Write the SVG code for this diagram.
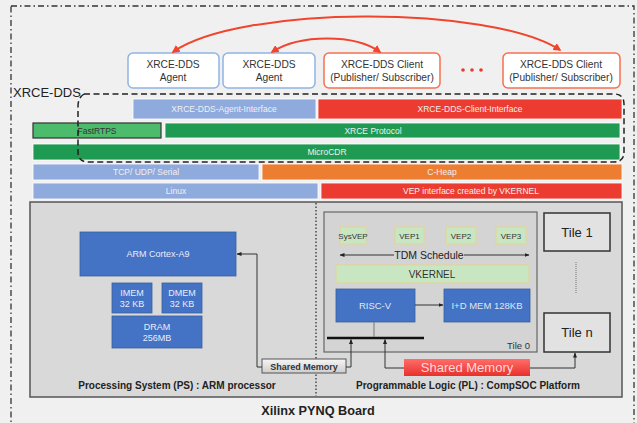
<svg xmlns="http://www.w3.org/2000/svg" width="637" height="423" viewBox="0 0 637 423">
<style>
text{font-family:"Liberation Sans",Arial,sans-serif}
.top{fill:#fff;stroke-width:1.5}
.ag{stroke:#8fb4e3}
.cl{stroke:#f4704f}
.tt{font-size:10.2px;fill:#333;text-anchor:middle}
.ly{font-size:8.5px;fill:#f1f1f1;text-anchor:middle}
.blue{fill:#8faadc;stroke:#fff;stroke-width:.8}
.red{fill:#ec3b30;stroke:#fff;stroke-width:.8}
.grn{fill:#1f9a52;stroke:#fff;stroke-width:.8}
.org{fill:#ed7d31;stroke:#fff;stroke-width:.8}
.dblue{fill:#4472c4;stroke:#3b5f9e;stroke-width:.8}
.wt{font-size:9px;fill:#e8eef8;text-anchor:middle}
.vep{fill:#c9e6c3;stroke:#e2d59a;stroke-width:1.2}
.vt{font-size:8px;fill:#333;text-anchor:middle}
.tile{fill:#e2e2e2;stroke:#333;stroke-width:1.5}
.bold{font-weight:bold;fill:#222;text-anchor:middle}
.arr{fill:none;stroke:#333;stroke-width:1}
.rarc{fill:none;stroke:#f0442c;stroke-width:2}
</style>
<defs>
<marker id="rh" viewBox="0 0 10 10" refX="8" refY="5" markerWidth="4" markerHeight="4" orient="auto-start-reverse" markerUnits="strokeWidth"><path d="M0,0 L10,5 L0,10 z" fill="#f0442c"/></marker>
<marker id="bh" viewBox="0 0 10 10" refX="9" refY="5" markerWidth="5" markerHeight="5" orient="auto-start-reverse" markerUnits="strokeWidth"><path d="M0,1 L10,5 L0,9 z" fill="#222"/></marker>
<linearGradient id="gr" x1="0" y1="0" x2="0" y2="1"><stop offset="0" stop-color="#ff6e6a"/><stop offset="1" stop-color="#e8302c"/></linearGradient>
<linearGradient id="gg" x1="0" y1="0" x2="0" y2="1"><stop offset="0" stop-color="#f6f6f6"/><stop offset="1" stop-color="#cdcdcd"/></linearGradient>
</defs>
<rect width="637" height="423" fill="#f0f0f0"/>
<rect x="11" y="6" width="623" height="440" fill="none" stroke="#333" stroke-width="1.3" stroke-dasharray="6 3 1.5 3"/>

<g id="agent1"><rect class="top ag" x="128" y="53" width="91" height="35" rx="5"/><text class="tt" x="173" y="68">XRCE-DDS</text><text class="tt" x="173" y="81">Agent</text></g>
<g id="agent2"><rect class="top ag" x="223" y="53" width="92" height="35" rx="5"/><text class="tt" x="269" y="68">XRCE-DDS</text><text class="tt" x="269" y="81">Agent</text></g>
<g id="client1"><rect class="top cl" x="324" y="53" width="116" height="35" rx="5"/><text class="tt" x="382" y="68">XRCE-DDS Client</text><text class="tt" x="382" y="81">(Publisher/ Subscriber)</text></g>
<g id="dots"><circle cx="463" cy="70" r="1.8" fill="#e8392f"/><circle cx="472" cy="70" r="1.8" fill="#e8392f"/><circle cx="481" cy="70" r="1.8" fill="#e8392f"/></g>
<g id="client2"><rect class="top cl" x="503" y="53" width="117" height="35" rx="5"/><text class="tt" x="561" y="68">XRCE-DDS Client</text><text class="tt" x="561" y="81">(Publisher/ Subscriber)</text></g>

<g id="xrce-dds-label"><text x="13" y="97" font-size="13" fill="#222">XRCE-DDS</text></g>

<g id="layers">
<rect class="blue" x="133" y="99" width="183" height="20"/><text class="ly" x="224" y="112">XRCE-DDS-Agent-Interface</text>
<rect class="red" x="318" y="99" width="304" height="20"/><text class="ly" x="470" y="112">XRCE-DDS-Client-Interface</text>
<rect x="33" y="123" width="128" height="15" fill="#4dbb6c" stroke="#333" stroke-width="1.2"/><text x="97" y="134" font-size="8.5" fill="#333" text-anchor="middle">FastRTPS</text>
<rect class="grn" x="165" y="123" width="455" height="15"/><text class="ly" x="373" y="134">XRCE Protocol</text>
<rect class="grn" x="33" y="144" width="587" height="16"/><text class="ly" x="327" y="155">MicroCDR</text>
<rect class="blue" x="33" y="164" width="226" height="16"/><text class="ly" x="146" y="175">TCP/ UDP/ Serial</text>
<rect class="org" x="262" y="164" width="360" height="16"/><text class="ly" x="442" y="175">C-Heap</text>
<rect class="blue" x="33" y="183" width="285" height="16"/><text class="ly" x="176" y="194">Linux</text>
<rect class="red" x="321" y="183" width="301" height="16"/><text class="ly" x="471" y="194">VEP interface created by VKERNEL</text>
</g>
<path d="M84,94 H614 Q624,94 624,104 V152 Q624,162 614,162 H88 Q78,162 78,152 V106 Q78,98 84,94" fill="none" stroke="#222" stroke-width="1.5" stroke-dasharray="6 3.5"/>

<g id="board">
<rect x="30" y="202" width="592" height="195" fill="#d9d9d9" stroke="#555" stroke-width="1.5"/>
<line x1="316" y1="203" x2="316" y2="396" stroke="#333" stroke-width="1.3" stroke-dasharray="1.5 2"/>
</g>

<g id="arm"><rect class="dblue" x="80" y="232" width="156" height="44"/><text class="wt" x="158" y="257">ARM Cortex-A9</text></g>
<g id="imem"><rect class="dblue" x="112" y="283" width="40" height="30"/><text class="wt" x="132" y="296">IMEM</text><text class="wt" x="132" y="307">32 KB</text></g>
<g id="dmem"><rect class="dblue" x="162" y="283" width="40" height="30"/><text class="wt" x="182" y="296">DMEM</text><text class="wt" x="182" y="307">32 KB</text></g>
<g id="dram"><rect class="dblue" x="112" y="316" width="90" height="32"/><text class="wt" x="157" y="330">DRAM</text><text class="wt" x="157" y="341">256MB</text></g>

<g id="tile0">
<rect x="324" y="212" width="213" height="140" fill="#d4d4d4" stroke="#666" stroke-width="1.2"/>
<text x="530" y="349" font-size="9.5" fill="#333" text-anchor="end">Tile 0</text>
</g>
<g id="sysvep"><rect class="vep" x="340" y="227" width="26" height="17"/><text class="vt" x="353" y="238.5">SysVEP</text></g>
<g id="vep1"><rect class="vep" x="395" y="227" width="29" height="17"/><text class="vt" x="409.5" y="238.5">VEP1</text></g>
<g id="vep2"><rect class="vep" x="446" y="227" width="30" height="17"/><text class="vt" x="461" y="238.5">VEP2</text></g>
<g id="vep3"><rect class="vep" x="496" y="227" width="30" height="17"/><text class="vt" x="511" y="238.5">VEP3</text></g>
<g id="tdm"><text x="429" y="258.5" font-size="10.5" fill="#222" text-anchor="middle">TDM Schedule</text></g>
<g id="vkernel"><rect class="vep" x="336" y="265" width="193" height="18"/><text x="432" y="277.5" font-size="10" fill="#333" text-anchor="middle">VKERNEL</text></g>
<g id="riscv"><rect class="dblue" x="336" y="289" width="79" height="33"/><text x="375" y="308.5" font-size="9.5" fill="#dfe7f5" text-anchor="middle">RISC-V</text></g>
<g id="idmem"><rect class="dblue" x="444" y="289" width="86" height="33"/><text x="487" y="308.5" font-size="9.5" fill="#dfe7f5" text-anchor="middle">I+D MEM 128KB</text></g>

<g id="tile1"><rect class="tile" x="544" y="213" width="66" height="38"/><text x="577" y="236.5" font-size="13" fill="#222" text-anchor="middle">Tile 1</text></g>
<g id="tilen"><rect class="tile" x="544" y="313" width="66" height="39"/><text x="577" y="337" font-size="13" fill="#222" text-anchor="middle">Tile n</text></g>
<line x1="576" y1="262" x2="576" y2="293" stroke="#777" stroke-width="1" stroke-dasharray="1 1"/>

<g id="shm-ps"><rect x="262" y="359" width="84" height="14" fill="url(#gg)" stroke="#555" stroke-width="1"/><text x="304" y="369.5" font-size="9" font-weight="bold" fill="#333" text-anchor="middle">Shared Memory</text></g>
<g id="shm-pl"><rect x="404" y="359" width="126" height="17" fill="url(#gr)"/><text x="467" y="372" font-size="13" fill="#ffd8d8" text-anchor="middle">Shared Memory</text></g>

<g id="connectors">
<path class="rarc" d="M173,52 C240,5 490,5 560,50" marker-start="url(#rh)" marker-end="url(#rh)"/>
<path class="rarc" d="M272,52 C300,34 355,34 380,52" marker-start="url(#rh)" marker-end="url(#rh)"/>
<line x1="340" y1="255" x2="394" y2="255" class="arr" marker-start="url(#bh)"/>
<line x1="464" y1="255" x2="529" y2="255" class="arr" marker-end="url(#bh)"/>
<line x1="415" y1="305" x2="443" y2="305" class="arr" marker-end="url(#bh)"/>
<line x1="327" y1="338" x2="424" y2="338" stroke="#111" stroke-width="2.5"/>
<line x1="374" y1="322" x2="374" y2="337" stroke="#777" stroke-width="1"/>
<path class="arr" d="M262,367 H257 V254 H237" marker-end="url(#bh)"/>
<path class="arr" d="M346,367 H351 V339.5" marker-end="url(#bh)"/>
<path class="arr" d="M404,368 H385 V339.5" marker-end="url(#bh)"/>
<path class="arr" d="M530,368 H575 V353" marker-end="url(#bh)"/>
</g>

<g id="labels">
<text class="bold" x="177" y="389" font-size="10">Processing System (PS) : ARM processor</text>
<text class="bold" x="468" y="389" font-size="10">Programmable Logic (PL) : CompSOC Platform</text>
<text class="bold" x="318" y="415" font-size="12.7">Xilinx PYNQ Board</text>
</g>
</svg>
